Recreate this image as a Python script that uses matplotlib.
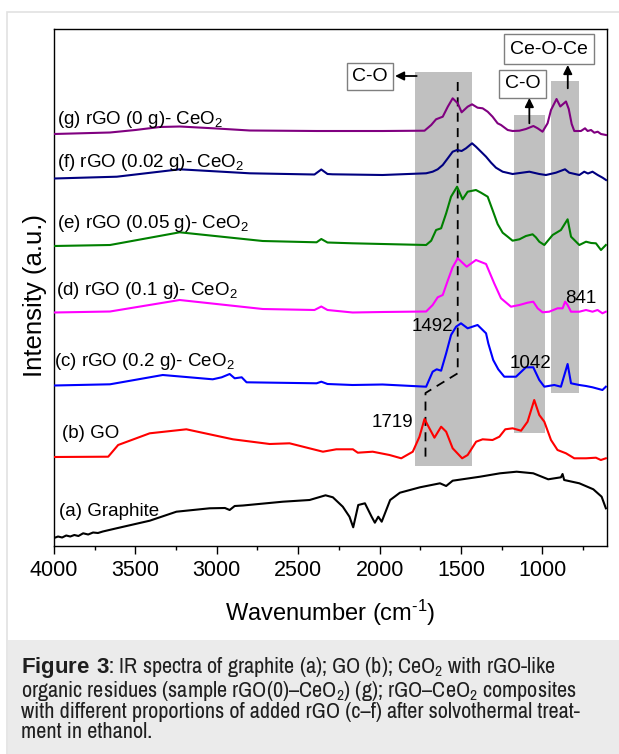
import matplotlib.pyplot as plt
from matplotlib.patches import Rectangle
from matplotlib.ticker import MultipleLocator

plt.rcParams['font.family'] = ['Liberation Sans', 'DejaVu Sans']
plt.rcParams['mathtext.fontset'] = 'custom'
plt.rcParams['mathtext.rm'] = 'Liberation Sans'
plt.rcParams['mathtext.bf'] = 'Liberation Sans:bold'
plt.rcParams['mathtext.default'] = 'regular'

# ---- spectra (wavenumber, intensity above own baseline, a.u.) ----
a_wn = [4000, 3975, 3950, 3925, 3900, 3875, 3850, 3821, 3790, 3760, 3730, 3700, 3616, 3412, 3248,
        3044, 2950, 2921, 2890, 2839, 2594, 2430, 2332, 2287, 2226, 2185, 2162, 2131, 2090, 2049,
        2029, 2008, 1987, 1935, 1875, 1752, 1629, 1591, 1551, 1383, 1260, 1158, 1056, 964, 886,
        876, 866, 773, 687, 636, 610]
a_int = [0, 1.5, 0.5, 2.5, 1.5, 3, 2, 4.7, 3.5, 5.5, 5, 6.5, 9.7, 17.3, 26.3,
         29.7, 30, 28, 32, 32.5, 36.3, 38, 42.7, 40.7, 31.3, 21.3, 10.7, 33, 34.7, 21.3,
         15.3, 21.3, 16.3, 38, 45.3, 50.7, 54.7, 52, 57.3, 61.3, 64.7, 66.3, 64.7, 58.7, 60.7,
         64, 58, 54.7, 48.7, 41.3, 29.7]

b_wn = [4000, 3667, 3606, 3412, 3187, 2901, 2675, 2553, 2348, 2266, 2164, 2134, 2042, 1939, 1867,
        1796, 1755, 1724, 1694, 1663, 1622, 1591, 1551, 1493, 1459, 1407, 1367, 1306, 1264, 1228,
        1183, 1131, 1091, 1050, 1019, 988, 947, 907, 855, 804, 732, 671, 641, 610]
b_int = [0, 0.3, 12, 23.7, 27.7, 17.7, 13, 13.7, 5.3, 7.7, 7.7, 4.3, 5.3, 2, -1.3,
         5.3, 20.3, 38, 28.7, 19.3, 30.3, 25.3, 8.7, -1.3, 2, 15.3, 17.7, 17, 20.3, 27.7,
         28.7, 26.3, 35.3, 57, 42, 35.3, 17, 7, 3.7, -1.3, -1.3, -0.7, -3, -1.3]

c_wn = [4000, 3656, 3332, 3025, 2970, 2921, 2890, 2847, 2817, 2387, 2358, 2320, 2166, 1982, 1714,
        1674, 1649, 1622, 1591, 1561, 1530, 1500, 1459, 1398, 1346, 1332, 1302, 1271, 1234, 1162,
        1101, 1056, 1019, 988, 927, 886, 845, 824, 773, 732, 692, 631, 610]
c_int = [0, 1.2, 10.5, 6.2, 8.2, 11.5, 7.2, 8.2, 3.2, 2.2, 3.8, 1.5, 0.5, 1, -1.2,
         13.8, 16.2, 14.8, 32.2, 50.5, 58.8, 62.2, 57.2, 60.5, 52.2, 42, 25.5, 16.2, 8.8, 8.8,
         18.2, 18.2, 5.5, -1.2, 0.5, -1.2, 21.5, 2.2, 0.5, -0.5, -1.8, -4.5, -1.2]

d_wn = [4000, 3656, 3228, 2718, 2400, 2358, 2320, 2166, 1982, 1714, 1674, 1643, 1612, 1581, 1552,
        1520, 1465, 1408, 1346, 1296, 1254, 1193, 1141, 1091, 1056, 1029, 999, 958, 907, 876,
        860, 845, 824, 773, 732, 692, 661, 631, 610]
d_int = [0, 1, 12.5, 3.5, 2.5, 6, 2.5, 0, 0.5, 1, 7.5, 15.2, 17.5, 32, 45,
         54.2, 45.8, 52.5, 48.5, 29.2, 14.2, 5.8, 7.5, 9.8, 10.8, 4.2, 0.2, 0.8, 4.2, 4.2,
         10.8, 7.5, 0.8, 0.8, 2.5, 0.8, 2.5, -0.8, 0.8]

e_wn = [4000, 3656, 3228, 2718, 2387, 2358, 2320, 2166, 1982, 1714, 1683, 1653, 1622, 1591, 1561,
        1524, 1490, 1459, 1408, 1377, 1336, 1306, 1275, 1244, 1213, 1183, 1141, 1101, 1060, 1040,
        1019, 988, 937, 886, 845, 824, 773, 732, 700, 671, 640, 610]
e_int = [0, 1, 13.7, 5, 3.7, 7, 3.5, 2.7, 2, 1, 5.3, 16, 17.7, 32.7, 49.3,
         59.3, 46.7, 54.3, 56, 53.3, 49.3, 36, 22, 13.3, 9.3, 5.3, 6.7, 10, 11.7, 8.7,
         4.3, 1, 11, 16, 26.7, 9.3, 1, 4.3, 3, 2.7, -4, 1]

f_wn = [4000, 3614, 3228, 2798, 2400, 2358, 2320, 2289, 1982, 1714, 1674, 1643, 1612, 1581, 1551,
        1524, 1496, 1469, 1432, 1408, 1377, 1346, 1315, 1285, 1244, 1183, 1080, 1019, 978, 917,
        861, 835, 773, 743, 720, 692, 660, 630, 609]
f_int = [0, 1.8, 9.2, 5.2, 4, 9, 4.5, 4.2, 3.5, 5.2, 6.8, 9.2, 13.5, 20.2, 26.8,
         28.5, 27.5, 30.2, 35.2, 31.8, 26.8, 21.8, 15.8, 10.8, 6.8, 4.5, 6.8, 4.5, 3.5, 5.8,
         9.2, 5.8, 3.5, 6.8, 5, 6.8, 3.5, 0.8, -1.5]

g_wn = [4000, 3656, 3500, 3350, 3227, 3000, 2798, 2387, 1982, 1724, 1683, 1653, 1612, 1581, 1551,
        1520, 1496, 1459, 1432, 1398, 1367, 1336, 1306, 1275, 1254, 1213, 1183, 1141, 1101, 1055,
        1029, 999, 968, 947, 913, 890, 855, 838, 820, 804, 763, 738, 722, 701, 681, 660, 640, 609]
g_int = [0, 1.5, 4, 7, 7.5, 5.5, 3.5, 3, 3, 3.3, 9, 14.7, 17.3, 27.3, 35.7,
         30.7, 21.7, 27.3, 29.7, 26.3, 25.7, 22.3, 17.3, 10.7, 9, 4, 3, 3.3, 5, 8,
         5.7, 2.3, 10.7, 24, 35, 27.5, 32.5, 25, 10, 3, 3, 5.7, 3, 4, 1.3, 2.3, 0, -1]

series_wn = [a_wn, b_wn, c_wn, d_wn, e_wn, f_wn, g_wn]
series_int = [a_int, b_int, c_int, d_int, e_int, f_int, g_int]
labels = ['(a) Graphite', '(b) GO', '(c) rGO (0.2 g)- CeO$_2$', '(d) rGO (0.1 g)- CeO$_2$',
          '(e) rGO (0.05 g)- CeO$_2$', '(f) rGO (0.02 g)- CeO$_2$', '(g) rGO (0 g)- CeO$_2$']
offsets = [8, 89, 160.5, 233.5, 300, 367.5, 412]
colors = ['black', '#ff0000', '#0000ff', '#ff00ff', '#008000', '#000080', '#800080']
label_pos = [(3968, 29.5), (3953, 107.7), (4000, 180.3), (3985, 251), (3980, 318.3), (3980, 379.3), (3980, 422)]

# shaded bands: (wn_left, wn_right, y_bottom, y_top)
bands = [(1780, 1434, 80, 474), (1176, 981, 113.3, 431), (944, 772, 153, 465)]
peak_text = [('1492', 1678, 215), ('1042', 1070, 177.7), ('841', 763, 242.7), ('1719', 1918, 119.3)]

caption = ('$\\bf{Figure\\ 3}$: IR spectra of graphite (a); GO (b); CeO$_2$ with rGO-like\n'
           'organic residues (sample rGO(0)\u2013CeO$_2$) (g); rGO\u2013CeO$_2$ composites\n'
           'with different proportions of added rGO (c\u2013f) after solvothermal treat-\n'
           'ment in ethanol.')

fig = plt.figure(figsize=(6.19, 7.54), dpi=100)

# page frame and caption panel
fig.patches.append(Rectangle((7 / 619, -0.01), 1.0, 1 - 12 / 754 + 0.01, transform=fig.transFigure,
                             fill=False, ec='#e2e2e2', lw=1.2))
fig.patches.append(Rectangle((7.5 / 619, 0), 1.0, 114 / 754, transform=fig.transFigure,
                             fc='#ebebeb', ec='none'))

ax = fig.add_axes([54 / 619, 208 / 754, 553 / 619, 517 / 754])

for x0, x1, y0, y1 in bands:
    ax.fill_between([x0, x1], y0, y1, color='#c0c0c0', lw=0, zorder=1)

# dashed guide lines 1492 / 1719
ax.plot([1520, 1520, 1718, 1718], [464, 172.7, 153, 87.7], color='black', ls=(0, (5, 3.5)),
        lw=1.3, zorder=2)

for wn, inten, off, col in zip(series_wn, series_int, offsets, colors):
    ax.plot(wn, [off + v for v in inten], color=col, lw=1.5, zorder=3)

for lab, (x, y) in zip(labels, label_pos):
    ax.text(x, y, lab, fontsize=13.5, ha='left', va='baseline', zorder=4)

for txt, x, y in peak_text:
    ax.text(x, y, txt, fontsize=13.5, ha='center', va='baseline', zorder=4)

# boxed assignments with arrows
box = dict(boxstyle='square,pad=0.28', fc='white', ec='#7f7f7f', lw=1)
ax.text(2059, 469.5, 'C-O', fontsize=14, ha='center', va='center', bbox=box, zorder=5)
ax.text(1123, 462, 'C-O', fontsize=14, ha='center', va='center', bbox=box, zorder=5)
ax.text(961, 497, 'Ce-O-Ce', fontsize=14, ha='center', va='center',
        bbox=dict(boxstyle='square,pad=0.32', fc='white', ec='#7f7f7f', lw=1), zorder=5)
arrow = dict(arrowstyle='-|>', color='black', lw=1.3, mutation_scale=13, shrinkA=0, shrinkB=0)
ax.annotate('', xy=(1905, 470), xytext=(1772, 470), arrowprops=arrow, zorder=5)
ax.annotate('', xy=(1080, 448), xytext=(1080, 422.7), arrowprops=arrow, zorder=5)
ax.annotate('', xy=(844, 481), xytext=(844, 457.7), arrowprops=arrow, zorder=5)

ax.set_xlim(4000, 603)
ax.set_ylim(0, 517)
ax.set_xticks([4000, 3500, 3000, 2500, 2000, 1500, 1000])
ax.xaxis.set_minor_locator(MultipleLocator(250))
ax.set_yticks([])
ax.tick_params(axis='x', which='major', direction='out', length=5.5, width=1, labelsize=15.5, pad=4.5)
ax.tick_params(axis='x', which='minor', direction='out', length=3, width=1)
for s in ax.spines.values():
    s.set_linewidth(1.0)

ax.set_xlabel('Wavenumber (cm$^{\u20101}$)', fontsize=17)
ax.xaxis.set_label_coords(0.5, -0.1)
ax.set_ylabel('Intensity (a.u.)', fontsize=18.5)
ax.yaxis.set_label_coords(-0.012, 0.4845)

# caption (narrow grotesque, like the journal's), one text block
fig.text(21 / 619, 1 - 655 / 754, caption, family=['Archivo Narrow', 'Liberation Sans'],
         fontsize=16, color='#1f1f1f', va='top', ha='left', linespacing=0.95)

fig.savefig('out.png', dpi=100)
